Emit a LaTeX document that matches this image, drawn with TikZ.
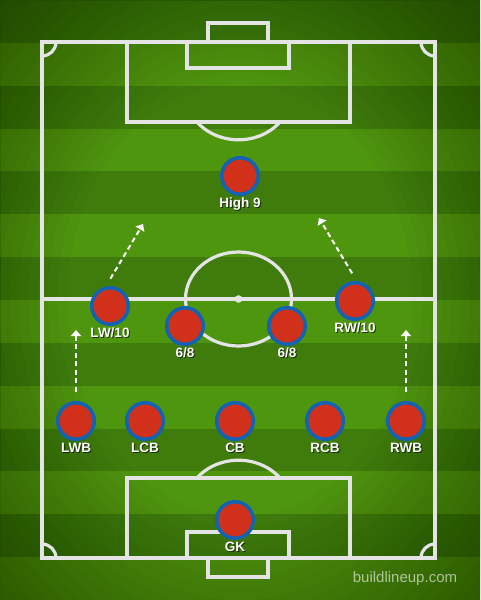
\documentclass[tikz,border=0pt]{standalone}
\usepackage{fontspec}
\usetikzlibrary{arrows.meta}
\newfontfamily\pitchfont{Liberation Sans}
\definecolor{grasslight}{HTML}{4F960F}
\definecolor{grassdark}{HTML}{3F7C0C}
\definecolor{pitchline}{HTML}{E4E4E4}
\definecolor{shirt}{HTML}{D1311A}
\definecolor{rim}{HTML}{1463B2}
\tikzset{
  lines/.style={draw=pitchline, line width=3.2pt},
  tag/.style={font=\pitchfont\bfseries\fontsize{13.5}{13.5}\selectfont, text=white, inner sep=0pt, label distance=1.5pt},
  tagshade/.style={tag, text=black, text opacity=0.6, xshift=1pt, yshift=-1pt},
  player/.style={circle, fill=shirt, draw=rim, line width=3.6pt, minimum size=36.5pt, inner sep=0pt,
    label={[tagshade]below:#1}, label={[tag]below:#1}},
  run/.style={white, line width=2pt, dash pattern=on 5pt off 3.5pt, shorten <=9pt,
    -{Triangle[width=10pt,length=6pt]}}
}
\begin{document}
\begin{tikzpicture}[x=1pt,y=-1pt]
  \useasboundingbox (0,0) rectangle (480,600);
  % grass
  \fill[grasslight] (0,0) rectangle (480,600);
  \foreach \i in {0,2,...,12}
    \fill[grassdark] (0,\i*42.857) rectangle (480,\i*42.857+42.857);
  % darker edges
  \foreach \r in {0.72,0.76,...,1.45}
    \fill[black, fill opacity=0.024, even odd rule] (0,0) rectangle (480,600)
      (240,300) ellipse [x radius=\r*240, y radius=\r*300];
  % pitch markings
  \draw[lines] (42,42) rectangle (435,558);
  \draw[lines] (42,299) -- (435,299);
  \draw[lines] (238.5,299) ellipse [x radius=53, y radius=47];
  \fill[pitchline] (238.5,299) circle [radius=3.8];
  \draw[lines] (127,42) rectangle (350,122);
  \draw[lines] (187,42) rectangle (289,68);
  \draw[lines] (208,42) |- (268,23) -- (268,42);
  \draw[lines] (280,122) arc [start angle=38.4, end angle=141.6, x radius=53, y radius=47];
  \draw[lines] (127,558) rectangle (350,478);
  \draw[lines] (187,558) rectangle (289,532);
  \draw[lines] (208,558) |- (268,577) -- (268,558);
  \draw[lines] (280,478) arc [start angle=-38.4, end angle=-141.6, x radius=53, y radius=47];
  \draw[lines] (56,42) arc [start angle=0, end angle=90, radius=14];
  \draw[lines] (435,56) arc [start angle=90, end angle=180, radius=14];
  \draw[lines] (42,544) arc [start angle=270, end angle=360, radius=14];
  \draw[lines] (421,558) arc [start angle=180, end angle=270, radius=14];
  % players
  \node[player=High 9] (nine) at (240,176) {};
  \node[player=LW/10] (lw) at (110,306) {};
  \node[player=6/8] (cml) at (185,326) {};
  \node[player=6/8] (cmr) at (287,326) {};
  \node[player=RW/10] (rw) at (355,301) {};
  \node[player=LWB] (lwb) at (76,421) {};
  \node[player=LCB] (lcb) at (145,421) {};
  \node[player=CB] (cb) at (235,421) {};
  \node[player=RCB] (rcb) at (325,421) {};
  \node[player=RWB] (rwb) at (406,421) {};
  \node[player=GK] (gk) at (235,520) {};
  % runs
  \coordinate (lwbto) at (76,330);
  \coordinate (rwbto) at (406,330);
  \coordinate (lwto) at (143,224);
  \coordinate (rwto) at (319,218);
  \draw[run] (lwb.north) -- (lwbto);
  \draw[run] (rwb.north) -- (rwbto);
  \draw[run] (lw.102) -- (lwto);
  \draw[run] (rw.85) -- (rwto);
  \node[font=\pitchfont\fontsize{15}{15}\selectfont, text=white, text opacity=0.6] (mark) at (405,579) {buildlineup.com};
\end{tikzpicture}
\end{document}
